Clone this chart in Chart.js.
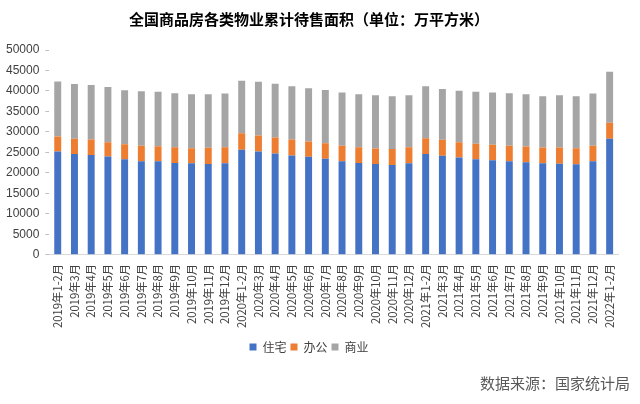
<!DOCTYPE html>
<html>
<head>
<meta charset="utf-8">
<script src="https://cdn.jsdelivr.net/npm/chart.js@4.4.1/dist/chart.umd.min.js"></script>
<style>
  body { margin: 0; background: #fff; }
  #wrap { width: 640px; height: 404px; position: relative; }
</style>
</head>
<body>
<div id="wrap"><canvas id="stock" width="640" height="404"></canvas></div>
<script>
// months (x axis)
const months = [
  '2019年1-2月','2019年3月','2019年4月','2019年5月','2019年6月','2019年7月','2019年8月','2019年9月','2019年10月','2019年11月','2019年12月',
  '2020年1-2月','2020年3月','2020年4月','2020年5月','2020年6月','2020年7月','2020年8月','2020年9月','2020年10月','2020年11月','2020年12月',
  '2021年1-2月','2021年3月','2021年4月','2021年5月','2021年6月','2021年7月','2021年8月','2021年9月','2021年10月','2021年11月','2021年12月',
  '2022年1-2月'
];

// 住宅
const housing = [
  25240, 24600, 24360, 24030, 23310, 22820, 22820, 22420, 22340, 22180, 22340,
  25650, 25240, 24760, 24280, 23950, 23470, 22820, 22420, 22180, 21940, 22340,
  24600, 24190, 23790, 23310, 23070, 22820, 22580, 22340, 22260, 22100, 22820,
  28310
];
// 办公
const office = [
  3630, 3710, 3790, 3470, 3710, 3790, 3710, 3870, 3710, 3950, 3950,
  4030, 3870, 3870, 3870, 3710, 3790, 3790, 3870, 3790, 3870, 3950,
  3870, 3880, 3710, 3790, 3790, 3790, 3870, 3870, 3950, 3950, 3790,
  3950
];
// 商业
const retail = [
  13470, 13390, 13300, 13470, 13140, 13310, 13310, 13150, 13150, 13070, 13070,
  12820, 13150, 13140, 12980, 12990, 12980, 12990, 12910, 12980, 12900, 12660,
  12660, 12420, 12580, 12740, 12740, 12830, 12750, 12500, 12740, 12660, 12750,
  12420
];

const yTicks = [0, 5000, 10000, 15000, 20000, 25000, 30000, 35000, 40000, 45000, 50000];

const cjk = '"Noto Sans CJK SC", "Microsoft YaHei", sans-serif';

// source note, bottom right
const sourceNote = {
  id: 'sourceNote',
  afterDraw(chart) {
    const ctx = chart.ctx;
    ctx.save();
    ctx.font = '15px ' + cjk;
    ctx.fillStyle = '#595959';
    ctx.textAlign = 'right';
    ctx.textBaseline = 'middle';
    ctx.fillText('数据来源：国家统计局', 630, 383);
    ctx.restore();
  }
};

new Chart(document.getElementById('stock'), {
  type: 'bar',
  data: {
    labels: months,
    datasets: [
      { label: '住宅', data: housing, backgroundColor: '#4472C4' },
      { label: '办公', data: office, backgroundColor: '#ED7D31' },
      { label: '商业', data: retail, backgroundColor: '#A5A5A5' }
    ]
  },
  options: {
    responsive: false,
    animation: false,
    layout: { padding: { left: 0, right: 22, top: 6, bottom: 41 } },
    datasets: { bar: { categoryPercentage: 0.8, barPercentage: 0.52 } },
    plugins: {
      title: {
        display: true,
        text: '全国商品房各类物业累计待售面积（单位：万平方米）',
        color: '#000',
        font: { family: cjk, size: 15, weight: 'bold' },
        padding: { top: 4, bottom: 22 }
      },
      legend: {
        position: 'bottom',
        labels: {
          color: '#404040',
          font: { family: cjk, size: 12 },
          boxWidth: 7,
          boxHeight: 7,
          padding: 4
        }
      },
      tooltip: { enabled: false }
    },
    scales: {
      x: {
        stacked: true,
        grid: { display: false, drawTicks: false },
        border: { color: '#D9D9D9' },
        ticks: {
          color: '#404040',
          font: { family: cjk, size: 11.3 },
          minRotation: 90,
          maxRotation: 90,
          autoSkip: false,
          padding: 9
        }
      },
      y: {
        stacked: true,
        min: 0,
        max: 50000,
        afterBuildTicks(axis) { axis.ticks = yTicks.map(v => ({ value: v })); },
        grid: { display: true, drawOnChartArea: false, drawTicks: true, tickLength: 4, color: '#BFBFBF' },
        border: { display: false },
        ticks: {
          color: '#404040',
          font: { family: 'Arial, "Liberation Sans", sans-serif', size: 12 },
          padding: 6,
          callback: v => String(v)
        }
      }
    }
  },
  plugins: [sourceNote]
});
</script>
</body>
</html>
